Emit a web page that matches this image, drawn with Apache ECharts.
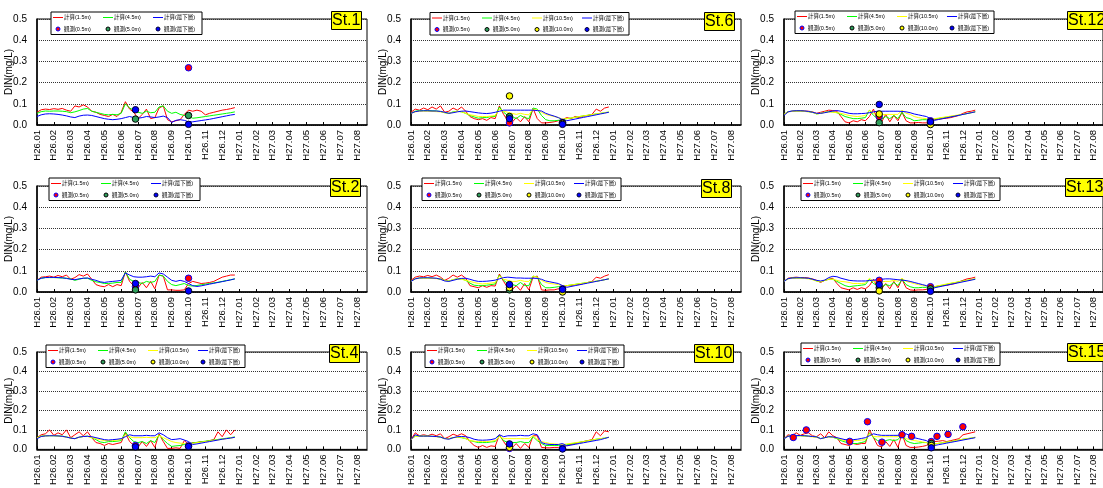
<!DOCTYPE html>
<html><head><meta charset="utf-8">
<script src="https://cdn.jsdelivr.net/npm/echarts@6/dist/echarts.min.js"></script>
<style>html,body{margin:0;padding:0;background:#fff}#c{width:1103px;height:488px}</style>
</head><body><div id="c"></div>
<script>
// ---- tick labels / time base (months since H26.01.01) ----
const monthLabels = ['H26.01','H26.02','H26.03','H26.04','H26.05','H26.06','H26.07','H26.08','H26.09','H26.10','H26.11','H26.12','H27.01','H27.02','H27.03','H27.04','H27.05','H27.06','H27.07','H27.08'];
const tMonth = [0,.25,.5,.75,1,1.25,1.5,1.75,2,2.25,2.5,2.75,3,3.25,3.5,3.75,4,4.25,4.5,4.75,5,5.25,5.5,5.75,6,6.25,6.5,6.75,7,7.25,7.5,7.75,8,8.25,8.5,8.75,9,9.25,9.5,9.75,10,10.25,10.5,10.75,11,11.25,11.5,11.75];
const obsT = [5.85, 9.0];
const names = ['計算(1.5m)','計算(4.5m)','計算(10.5m)','計算(最下層)','観測(0.5m)','観測(5.0m)','観測(10.0m)','観測(最下層)'];

// ---- St.1 ----
const st1_c15 = [.06,.072,.075,.073,.077,.074,.078,.07,.065,.09,.085,.095,.085,.065,.06,.05,.045,.04,.05,.04,.06,.11,.075,.06,.03,.05,.075,.03,.035,.08,.09,.025,.015,.02,.025,.05,.07,.065,.07,.065,.048,.055,.06,.065,.07,.073,.077,.082];
const st1_c45 = [.055,.063,.066,.065,.066,.066,.065,.063,.058,.062,.068,.075,.078,.065,.06,.055,.05,.048,.05,.048,.055,.1,.08,.07,.06,.055,.065,.058,.06,.085,.09,.065,.055,.06,.05,.045,.04,.032,.034,.037,.04,.043,.046,.049,.052,.055,.058,.062];
const st1_cBot = [.04,.048,.052,.053,.052,.05,.047,.043,.038,.035,.042,.046,.047,.045,.04,.035,.03,.027,.025,.027,.03,.035,.04,.035,.032,.035,.04,.038,.035,.038,.042,.035,.012,.022,.025,.022,.015,.015,.018,.021,.024,.027,.031,.035,.039,.043,.047,.05];
const st1_o05 = [null,.27], st1_o50 = [.028,.045], st1_oBot = [.072,.003];

// ---- St.2 ----
const st2_c15 = [.055,.07,.072,.075,.07,.078,.072,.08,.06,.068,.082,.075,.085,.06,.035,.028,.025,.035,.025,.035,.03,.095,.05,.03,.02,.045,.02,.05,.015,.08,.075,.01,.01,.008,.008,.01,.04,.05,.045,.04,.042,.045,.05,.06,.07,.075,.08,.08];
const st2_c45 = [.055,.065,.068,.068,.068,.067,.066,.065,.062,.055,.06,.065,.065,.055,.048,.045,.04,.04,.042,.045,.045,.095,.06,.05,.045,.04,.05,.045,.05,.08,.075,.05,.035,.03,.035,.04,.03,.028,.031,.034,.037,.04,.043,.046,.05,.054,.058,.062];
const st2_cBot = [.055,.065,.068,.069,.069,.068,.067,.064,.06,.058,.062,.065,.066,.06,.055,.048,.045,.048,.05,.052,.055,.09,.08,.072,.07,.07,.072,.075,.072,.09,.085,.07,.055,.05,.055,.05,.04,.03,.026,.029,.033,.037,.041,.045,.049,.053,.057,.062];
const st2_o05 = [.025,.065], st2_o50 = [.01,null], st2_oBot = [.04,.005];

// ---- St.4 ----
const st4_c15 = [.06,.075,.08,.1,.072,.085,.075,.1,.06,.075,.09,.07,.09,.06,.035,.03,.02,.03,.025,.03,.035,.085,.04,.02,.012,.04,.015,.045,.01,.08,.04,.005,.005,.008,.005,.045,.025,.035,.035,.04,.04,.045,.05,.09,.065,.1,.075,.1];
const st4_c45 = [.06,.068,.07,.07,.07,.069,.068,.064,.058,.055,.062,.066,.068,.06,.05,.038,.035,.04,.04,.042,.045,.09,.06,.04,.035,.04,.03,.045,.035,.075,.05,.03,.015,.018,.02,.025,.03,.033,.036,.039,.042,.045,.048,.051,.054,.057,.06,.064];
const st4_c105 = [.06,.067,.069,.07,.07,.068,.066,.063,.058,.055,.062,.066,.066,.06,.055,.05,.045,.045,.045,.048,.05,.075,.065,.06,.06,.06,.062,.06,.06,.07,.06,.05,.04,.035,.032,.03,.028,.031,.034,.037,.04,.043,.046,.049,.052,.055,.058,.062];
const st4_cBot = [.055,.066,.069,.07,.07,.069,.067,.063,.058,.055,.063,.066,.067,.065,.06,.055,.05,.048,.05,.052,.055,.065,.075,.07,.07,.07,.072,.07,.07,.085,.075,.06,.05,.052,.055,.048,.04,.025,.028,.032,.036,.04,.044,.048,.052,.055,.058,.062];
const st4_o05 = [.02,.018], st4_oBot = [.013,.015];

// ---- St.6 ----
const st6_c15 = [.06,.075,.07,.08,.072,.085,.075,.09,.06,.065,.08,.07,.085,.065,.04,.03,.025,.03,.022,.035,.03,.09,.05,.02,.012,.035,.015,.04,.015,.078,.03,.01,.01,.012,.015,.02,.025,.035,.03,.04,.035,.042,.045,.05,.075,.065,.08,.085];
const st6_c45 = [.055,.065,.068,.068,.068,.067,.066,.064,.058,.055,.062,.065,.062,.055,.045,.038,.032,.035,.035,.04,.04,.085,.06,.045,.04,.03,.045,.035,.03,.08,.075,.045,.025,.02,.02,.022,.025,.03,.033,.036,.04,.043,.046,.049,.052,.055,.058,.061];
const st6_c105 = [.055,.062,.065,.065,.065,.064,.063,.062,.058,.055,.06,.065,.062,.055,.048,.045,.04,.04,.04,.042,.045,.075,.065,.06,.055,.05,.055,.05,.048,.075,.07,.06,.05,.045,.04,.035,.028,.03,.033,.036,.04,.043,.046,.049,.052,.055,.058,.061];
const st6_cBot = [.055,.063,.066,.067,.067,.066,.066,.064,.06,.055,.058,.062,.065,.066,.063,.06,.057,.055,.054,.056,.06,.065,.07,.07,.07,.07,.07,.07,.07,.07,.068,.066,.055,.048,.042,.035,.025,.02,.024,.028,.032,.036,.04,.044,.048,.052,.056,.06];
const st6_o05 = [.01,.012], st6_o50 = [.04,.01], st6_o10 = [.137,.008], st6_oBot = [.03,.003];

// ---- St.8 ----
const st8_c15 = [.055,.07,.075,.072,.078,.072,.08,.07,.055,.065,.08,.07,.08,.065,.03,.025,.02,.03,.022,.03,.028,.085,.05,.02,.01,.03,.008,.04,.01,.07,.075,.01,.008,.01,.01,.015,.02,.03,.03,.035,.035,.04,.045,.05,.07,.065,.075,.082];
const st8_c45 = [.05,.063,.066,.066,.066,.065,.064,.062,.055,.052,.058,.063,.062,.055,.042,.032,.03,.03,.032,.035,.038,.08,.055,.04,.035,.03,.045,.03,.03,.075,.07,.035,.02,.02,.022,.025,.028,.03,.033,.036,.039,.042,.045,.048,.051,.054,.058,.062];
const st8_c105 = [.05,.062,.065,.065,.065,.064,.063,.06,.055,.052,.058,.062,.06,.055,.05,.045,.04,.038,.04,.042,.045,.075,.06,.055,.05,.05,.055,.05,.05,.075,.07,.055,.045,.04,.038,.035,.03,.03,.033,.036,.039,.042,.045,.048,.051,.054,.058,.062];
const st8_cBot = [.05,.062,.066,.067,.067,.066,.065,.06,.052,.05,.055,.06,.064,.065,.06,.054,.05,.05,.051,.053,.056,.062,.068,.07,.068,.066,.066,.065,.065,.065,.064,.06,.052,.048,.044,.04,.03,.022,.026,.03,.034,.038,.042,.046,.05,.054,.058,.062];
const st8_o05 = [.03,.015], st8_o50 = [.01,null], st8_o10 = [.02,0], st8_oBot = [.035,.012];

// ---- St.10 ----
const st10_c15 = [.05,.085,.07,.075,.07,.078,.07,.08,.055,.065,.078,.07,.08,.07,.04,.02,.01,.02,.01,.018,.015,.075,.04,.01,.008,.03,.005,.03,.01,.07,.07,.01,.008,.008,.01,.01,.01,.02,.025,.03,.035,.04,.045,.05,.09,.07,.095,.09];
const st10_c45 = [.05,.068,.068,.068,.068,.067,.066,.064,.056,.055,.06,.062,.06,.055,.045,.04,.035,.035,.035,.038,.04,.07,.045,.035,.035,.035,.04,.035,.035,.065,.045,.03,.02,.02,.02,.02,.02,.024,.028,.032,.036,.04,.044,.048,.052,.055,.058,.062];
const st10_c105 = [.05,.067,.068,.068,.068,.066,.065,.062,.055,.055,.06,.062,.062,.055,.045,.042,.04,.04,.04,.042,.045,.065,.055,.055,.055,.055,.055,.055,.055,.07,.05,.04,.035,.03,.028,.026,.025,.028,.031,.034,.037,.04,.044,.048,.052,.055,.058,.062];
const st10_cBot = [.05,.075,.068,.068,.068,.067,.066,.063,.055,.052,.06,.065,.066,.065,.06,.052,.048,.047,.048,.05,.055,.075,.065,.07,.07,.07,.072,.07,.07,.08,.075,.035,.028,.025,.025,.025,.03,.018,.022,.026,.03,.034,.038,.042,.046,.05,.056,.062];
const st10_o05 = [.005,.005], st10_o10 = [.01,null], st10_oBot = [.028,.002];

// ---- St.12 ----
const st12_c15 = [.05,.063,.065,.067,.068,.066,.065,.062,.055,.06,.065,.07,.068,.065,.04,.015,.01,.02,.015,.025,.02,.04,.075,.02,.015,.05,.015,.045,.02,.06,.02,.01,.01,.012,.01,.01,.015,.025,.028,.03,.032,.035,.04,.045,.055,.062,.065,.07];
const st12_c45 = [.05,.063,.065,.066,.066,.065,.063,.06,.052,.055,.06,.063,.062,.058,.05,.04,.035,.03,.03,.032,.035,.07,.045,.03,.028,.04,.03,.045,.03,.06,.035,.03,.02,.022,.025,.025,.025,.028,.031,.034,.037,.04,.043,.046,.05,.054,.058,.062];
const st12_c105 = [.05,.062,.064,.065,.065,.064,.062,.06,.052,.055,.06,.062,.06,.058,.055,.05,.045,.042,.04,.042,.045,.07,.055,.05,.048,.05,.05,.05,.05,.07,.055,.05,.04,.035,.032,.03,.028,.03,.033,.036,.039,.042,.045,.048,.051,.055,.058,.062];
const st12_cBot = [.045,.062,.066,.067,.067,.066,.064,.06,.055,.055,.058,.062,.066,.068,.065,.06,.055,.053,.053,.054,.055,.058,.062,.065,.065,.065,.065,.065,.065,.064,.062,.058,.052,.048,.044,.04,.03,.022,.026,.03,.034,.038,.042,.046,.05,.054,.058,.062];
const st12_o05 = [.04,.02], st12_o50 = [.011,.01], st12_o10 = [.052,.002], st12_oBot = [.097,.015];

// ---- St.13 ----
const st13_c15 = [.05,.065,.068,.07,.068,.068,.066,.062,.055,.045,.055,.06,.065,.04,.02,.015,.01,.02,.012,.02,.015,.03,.06,.02,.015,.04,.015,.05,.02,.06,.02,.01,.008,.01,.01,.012,.015,.025,.028,.03,.032,.036,.04,.048,.055,.062,.065,.07];
const st13_c45 = [.05,.063,.066,.066,.066,.065,.064,.06,.052,.048,.055,.06,.06,.05,.04,.03,.025,.028,.03,.032,.035,.06,.04,.03,.025,.035,.03,.045,.03,.06,.035,.025,.02,.02,.022,.022,.02,.024,.028,.032,.036,.04,.044,.048,.052,.055,.058,.062];
const st13_c105 = [.05,.062,.065,.065,.065,.064,.062,.058,.052,.048,.055,.06,.06,.055,.05,.048,.045,.04,.04,.04,.042,.065,.05,.048,.048,.05,.05,.055,.05,.065,.05,.045,.04,.035,.032,.028,.025,.026,.03,.034,.038,.042,.045,.048,.051,.055,.058,.062];
const st13_cBot = [.05,.063,.066,.067,.067,.066,.065,.06,.055,.052,.056,.068,.074,.072,.065,.06,.055,.053,.052,.052,.052,.054,.056,.058,.06,.062,.062,.06,.058,.056,.054,.05,.045,.04,.035,.03,.022,.02,.024,.028,.032,.036,.04,.044,.048,.052,.056,.06];
const st13_o05 = [.055,.025], st13_o50 = [.02,.015], st13_o10 = [.005,null], st13_oBot = [.035,.003];

// ---- St.15 ----
const st15_c15 = [.055,.075,.07,.085,.072,.08,.085,.07,.065,.08,.06,.09,.07,.06,.03,.025,.02,.03,.025,.03,.03,.1,.06,.02,.012,.04,.015,.05,.01,.08,.02,.01,.01,.012,.015,.02,.04,.04,.042,.045,.04,.045,.05,.055,.075,.08,.085,.09];
const st15_c45 = [.055,.068,.07,.07,.07,.069,.068,.066,.064,.055,.06,.065,.062,.055,.045,.038,.035,.03,.03,.035,.04,.085,.06,.045,.04,.045,.05,.045,.05,.075,.045,.035,.03,.032,.035,.035,.025,.028,.031,.034,.037,.04,.044,.048,.052,.055,.058,.062];
const st15_c105 = [.055,.067,.069,.07,.07,.068,.066,.064,.062,.055,.06,.064,.062,.058,.05,.045,.045,.045,.045,.048,.05,.08,.065,.065,.065,.065,.065,.065,.065,.075,.055,.05,.045,.042,.038,.035,.025,.028,.031,.034,.037,.04,.044,.048,.052,.055,.058,.062];
const st15_cBot = [.055,.067,.07,.071,.071,.07,.068,.066,.064,.055,.06,.065,.064,.06,.055,.05,.05,.05,.052,.056,.06,.07,.08,.075,.072,.072,.072,.072,.072,.075,.08,.07,.06,.055,.05,.045,.03,.02,.024,.028,.032,.036,.04,.044,.048,.052,.056,.06];
const st15_obsT05 = [0.57,1.37,4.04,5.13,6.02,7.25,7.84,9.05,9.4,10.08,10.99];
const st15_o05 = [.061,.1,.041,.142,.037,.075,.067,.04,.067,.077,.116];
const st15_obsTdeep = [9.05];
const st15_o50 = [.03], st15_o10 = [.02], st15_oBot = [.008];

// ---- panel layout (positions in px) ----
const panels = [
  {st:'St.1', g:[37,19], lg:[51,12], tl:[331,11], four:false, c:[st1_c15,st1_c45,null,st1_cBot], o:[[obsT,st1_o05],[obsT,st1_o50],null,[obsT,st1_oBot]]},
  {st:'St.6', g:[411,19], lg:[430,12.5], tl:[704,12], four:true, c:[st6_c15,st6_c45,st6_c105,st6_cBot], o:[[obsT,st6_o05],[obsT,st6_o50],[obsT,st6_o10],[obsT,st6_oBot]]},
  {st:'St.12', g:[784,19], lg:[795,11], tl:[1067,11], four:true, c:[st12_c15,st12_c45,st12_c105,st12_cBot], o:[[obsT,st12_o05],[obsT,st12_o50],[obsT,st12_o10],[obsT,st12_oBot]]},
  {st:'St.2', g:[37,186], lg:[49,178], tl:[330,178], four:false, c:[st2_c15,st2_c45,null,st2_cBot], o:[[obsT,st2_o05],[obsT,st2_o50],null,[obsT,st2_oBot]]},
  {st:'St.8', g:[411,186], lg:[422,178], tl:[701,179], four:true, c:[st8_c15,st8_c45,st8_c105,st8_cBot], o:[[obsT,st8_o05],[obsT,st8_o50],[obsT,st8_o10],[obsT,st8_oBot]]},
  {st:'St.13', g:[784,186], lg:[801,178], tl:[1065,178], four:true, c:[st13_c15,st13_c45,st13_c105,st13_cBot], o:[[obsT,st13_o05],[obsT,st13_o50],[obsT,st13_o10],[obsT,st13_oBot]]},
  {st:'St.4', g:[37,352], lg:[46,345], tl:[329,344], four:true, c:[st4_c15,st4_c45,st4_c105,st4_cBot], o:[[obsT,st4_o05],null,null,[obsT,st4_oBot]]},
  {st:'St.10', g:[411,352], lg:[425,345], tl:[694,344], four:true, c:[st10_c15,st10_c45,st10_c105,st10_cBot], o:[[obsT,st10_o05],null,[obsT,st10_o10],[obsT,st10_oBot]]},
  {st:'St.15', g:[784,352], lg:[801,343], tl:[1067,343], four:true, c:[st15_c15,st15_c45,st15_c105,st15_cBot], o:[[st15_obsT05,st15_o05],[st15_obsTdeep,st15_o50],[st15_obsTdeep,st15_o10],[st15_obsTdeep,st15_oBot]]}
];

const FONT = "'Liberation Sans', Arial, 'Noto Sans CJK JP', sans-serif";
const lineColors = ['#ff0000','#00ff00','#ffff00','#0000ff'];
const obsStyle = [
  {color:'#ff0000', borderColor:'#0000ff'},
  {color:'#2e9e5a', borderColor:'#000000'},
  {color:'#ffff00', borderColor:'#000000'},
  {color:'#0000ff', borderColor:'#000033'}
];

const grids=[], xAxes=[], yAxes=[], series=[], titles=[], graphics=[];
panels.forEach((p,i)=>{
  grids.push({left:p.g[0], top:p.g[1], width:330, height:106, show:true, borderColor:'#000', borderWidth:1, backgroundColor:'rgba(0,0,0,0)'});
  xAxes.push({gridIndex:i, type:'value', min:0, max:19.6, interval:1,
    axisLine:{lineStyle:{color:'#000', width:1.5}},
    axisTick:{inside:true, length:3, lineStyle:{color:'#000'}},
    splitLine:{show:false},
    axisLabel:{rotate:90, fontSize:9.5, color:'#000', margin:5, fontFamily:FONT, showMaxLabel:false,
      formatter:v=> (Math.abs(v-Math.round(v))<1e-6 && monthLabels[Math.round(v)]) ? monthLabels[Math.round(v)] : ''}});
  yAxes.push({gridIndex:i, type:'value', min:0, max:0.5, interval:0.1,
    name:'DIN(mg/L)', nameLocation:'middle', nameGap:23, nameMoveOverlap:false,
    nameTextStyle:{fontSize:10, color:'#000', fontFamily:FONT},
    axisLine:{show:true, lineStyle:{color:'#000', width:1.5}},
    axisTick:{show:false},
    splitLine:{lineStyle:{type:'dotted', color:'#333', width:1}},
    axisLabel:{fontSize:10, color:'#000', margin:10, fontFamily:FONT, formatter:v=>v.toFixed(1)}});
  p.c.forEach((arr,k)=>{
    if(!arr) return;
    series.push({type:'line', name:names[k], xAxisIndex:i, yAxisIndex:i, symbol:'none', z:2,
      lineStyle:{color:lineColors[k], width:1}, itemStyle:{color:lineColors[k]},
      data: tMonth.map((t,j)=>[t, arr[j]])});
  });
  [0,1,2,3].forEach(k=>{
    const o=p.o[k];
    if(!o) return;
    const d=[]; o[0].forEach((t,j)=>{ if(o[1][j]!=null) d.push([t,o[1][j]]); });
    series.push({type:'scatter', name:names[4+k], xAxisIndex:i, yAxisIndex:i, symbol:'circle', symbolSize:6.5, z:3,
      itemStyle:{color:obsStyle[k].color, borderColor:obsStyle[k].borderColor, borderWidth:1, opacity:1},
      data:d});
  });
  // legend box drawn as graphic (two rows: calc lines, obs markers)
  const cols = p.four ? [0,1,2,3] : [0,1,3];
  const bx = p.lg[0], by = p.lg[1], bw = p.four ? 199 : 151, bh = 22.5;
  const Z = 100;
  const ch = [{type:'rect', z:Z, shape:{x:bx, y:by, width:bw, height:bh}, style:{fill:'#fff', stroke:'#000', lineWidth:1}}];
  cols.forEach((k,ci)=>{
    const x0 = bx + 2 + 50*ci;
    const y1 = by + 5.5, y2 = by + 17;
    ch.push({type:'line', z:Z+1, shape:{x1:x0, y1:y1, x2:x0+10, y2:y1}, style:{stroke:lineColors[k], lineWidth:1}});
    ch.push({type:'text', z:Z+1, style:{text:names[k], x:x0+11, y:y1, fontSize:5.5, fontFamily:FONT, fill:'#000', verticalAlign:'middle', align:'left'}});
    ch.push({type:'circle', z:Z+1, shape:{cx:x0+5, cy:y2, r:2}, style:{fill:obsStyle[k].color, stroke:obsStyle[k].borderColor, lineWidth:1}});
    ch.push({type:'text', z:Z+1, style:{text:names[4+k], x:x0+11, y:y2, fontSize:5.5, fontFamily:FONT, fill:'#000', verticalAlign:'middle', align:'left'}});
  });
  graphics.push({type:'group', z:Z, children:ch});
  titles.push({text:p.st, left:p.tl[0], top:p.tl[1], backgroundColor:'#ffff00', borderColor:'#000', borderWidth:1,
    padding:[2,1,1,1], z:10,
    textStyle:{fontSize:16, fontWeight:'normal', color:'#000', fontFamily:FONT}});
});

const chart = echarts.init(document.getElementById('c'), null, {renderer:'canvas'});
chart.setOption({
  animation:false,
  backgroundColor:'#fff',
  textStyle:{fontFamily:FONT},
  title:titles, grid:grids, xAxis:xAxes, yAxis:yAxes, series:series, graphic:graphics
});
</script></body></html>
